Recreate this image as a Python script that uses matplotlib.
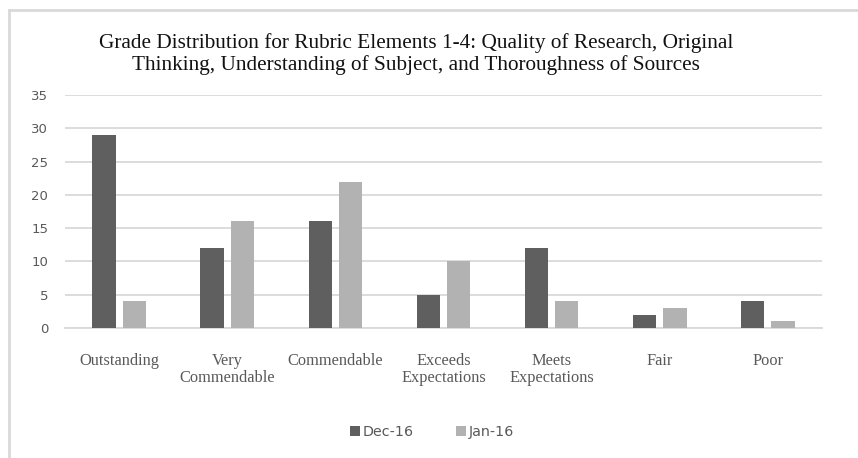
import numpy as np
import matplotlib
matplotlib.use('Agg')
from matplotlib import pyplot as plt
from matplotlib.lines import Line2D

categories = ['Outstanding', 'Very\nCommendable', 'Commendable', 'Exceeds\nExpectations',
              'Meets\nExpectations', 'Fair', 'Poor']
dec16 = [29, 12, 16, 5, 12, 2, 4]
jan16 = [4, 16, 22, 10, 4, 3, 1]
series_names = ['Dec-16', 'Jan-16']
dark = '#5f5f5f'
light = '#b2b2b2'
grid_c = '#d9d9d9'
tick_c = '#595959'

fig = plt.figure(figsize=(8.58, 4.58), dpi=100)
ax = fig.add_axes([65/858, 1-328/458, (822-65)/858, (328-95)/458])

x = np.arange(len(categories))
w = 0.215
gap = 0.065
b1 = ax.bar(x - (w+gap)/2, dec16, w, color=dark, label=series_names[0], zorder=3)
b2 = ax.bar(x + (w+gap)/2, jan16, w, color=light, label=series_names[1], zorder=3)

ax.set_xlim(-0.5, len(categories)-0.5)
ax.set_ylim(0, 35)
ax.set_yticks(range(0, 36, 5))
ax.yaxis.grid(True, color=grid_c, linewidth=1.3, zorder=0)
ax.set_axisbelow(True)
for s in ['top', 'right', 'left']:
    ax.spines[s].set_visible(False)
ax.spines['bottom'].set_color(grid_c)
ax.spines['bottom'].set_linewidth(1.3)
ax.tick_params(axis='both', length=0)
ax.tick_params(axis='y', labelcolor=tick_c, labelsize=9.5, pad=12)
ax.set_xticks(x)
ax.set_xticklabels(categories, fontfamily='Liberation Serif', fontsize=11.8,
                   color=tick_c, linespacing=1.12)
ax.tick_params(axis='x', pad=18)

fig.text(416/858, 1-54/458,
         'Grade Distribution for Rubric Elements 1-4: Quality of Research, Original\n'
         'Thinking, Understanding of Subject, and Thoroughness of Sources',
         ha='center', va='center', fontfamily='Liberation Serif', fontsize=15.3,
         color='#111111', linespacing=1.17)

fig.legend(handles=[b1, b2], loc='center', bbox_to_anchor=(432/858, 1-432/458),
           ncol=2, frameon=False, fontsize=10.3, labelcolor=tick_c,
           handlelength=0.7, handleheight=0.7, handletextpad=0.2, columnspacing=3.0)

# outer chart border (top and left edges visible)
fig.add_artist(Line2D([9/858, 9/858], [0, 1-10/458], color='#d9d9d9', linewidth=2,
                      transform=fig.transFigure))
fig.add_artist(Line2D([9/858, 1], [1-10/458, 1-10/458], color='#d9d9d9', linewidth=2,
                      transform=fig.transFigure))

plt.savefig('out.png', dpi=100)
